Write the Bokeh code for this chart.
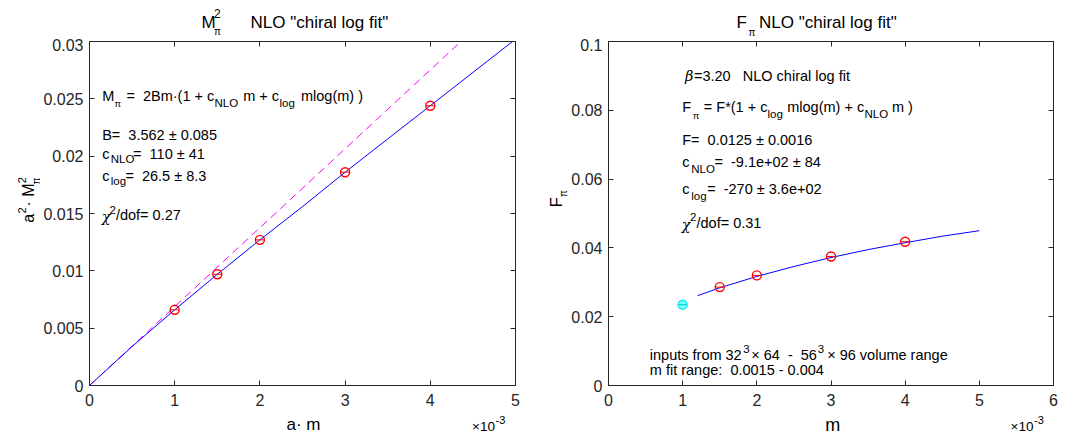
import math
from bokeh.plotting import figure
from bokeh.layouts import row, column
from bokeh.models import Range1d, FixedTicker, LinearAxis, Label
from bokeh.embed import file_html
from bokeh.resources import INLINE

# ---------------- data ----------------
# left panel: a^2 M_pi^2 vs a m
m_pts_L = [0.001, 0.0015, 0.002, 0.003, 0.004]
M2_pts_L = [0.0066, 0.0097, 0.0127, 0.0186, 0.0244]
m_fit_L = [0.0, 0.0005, 0.001, 0.0015, 0.002, 0.0025, 0.003, 0.0035, 0.004, 0.0045, 0.005]
M2_fit_L = [0.0, 0.0034, 0.0066, 0.0097, 0.0127, 0.0156, 0.0186, 0.0215, 0.0244, 0.0273, 0.0302]
m_LO_L = [0.0, 0.00436]
M2_LO_L = [0.0, 0.03]

# right panel: F_pi vs m
m_pts_R = [0.0015, 0.002, 0.003, 0.004]
F_pts_R = [0.0286, 0.0320, 0.0375, 0.0418]
m_out_R = [0.001]
F_out_R = [0.0235]
m_fit_R = [0.0012, 0.0015, 0.002, 0.0025, 0.003, 0.0035, 0.004, 0.0045, 0.005]
F_fit_R = [0.0261, 0.0284, 0.0317, 0.0346, 0.0372, 0.0395, 0.0415, 0.0434, 0.0450]

# ticks
xticks_L = [0.0, 0.001, 0.002, 0.003, 0.004, 0.005]
xlabels_L = ["0", "1", "2", "3", "4", "5"]
yticks_L = [0.0, 0.005, 0.01, 0.015, 0.02, 0.025, 0.03]
ylabels_L = ["0", "0.005", "0.01", "0.015", "0.02", "0.025", "0.03"]
xticks_R = [0.0, 0.001, 0.002, 0.003, 0.004, 0.005, 0.006]
xlabels_R = ["0", "1", "2", "3", "4", "5", "6"]
yticks_R = [0.0, 0.02, 0.04, 0.06, 0.08, 0.1]
ylabels_R = ["0", "0.02", "0.04", "0.06", "0.08", "0.1"]

FONT = "Liberation Sans"
GREEK = "DejaVu Serif"
AX = "#262626"
NB = "\u00a0"

# page geometry (pixels)
TITLE_H = 38
MID_H = 375
BOT_H = 21
L_X0, L_X1 = 88, 515
R_X0, R_X1 = 608, 1053
Y0, Y1 = 41, 385


def make_fig(width, bl, br, xr, yr, xt, xl, yt, yl):
    p = figure(width=width, height=MID_H, x_range=Range1d(*xr), y_range=Range1d(*yr),
               output_backend="svg", toolbar_location=None,
               min_border_left=bl, min_border_right=br,
               min_border_top=3, min_border_bottom=28)
    p.xgrid.visible = False
    p.ygrid.visible = False
    p.outline_line_color = AX
    for ax, ticks, labels in ((p.xaxis[0], xt, xl), (p.yaxis[0], yt, yl)):
        ax.ticker = FixedTicker(ticks=ticks)
        ax.major_label_overrides = {t: s for t, s in zip(ticks, labels)}
        ax.major_tick_in = 5
        ax.major_tick_out = 0
        ax.minor_tick_line_color = None
        ax.axis_line_color = AX
        ax.major_tick_line_color = AX
        ax.major_label_text_font = FONT
        ax.major_label_text_font_size = "16px"
        ax.major_label_text_color = AX
    p.xaxis[0].major_label_standoff = 8
    p.yaxis[0].major_label_standoff = 6
    for loc, ticks in (("above", xt), ("right", yt)):
        a = LinearAxis(ticker=FixedTicker(ticks=ticks), major_tick_in=5, major_tick_out=0,
                       minor_tick_line_color=None, axis_line_color=AX,
                       major_tick_line_color=AX, major_label_text_font_size="1px",
                       major_label_text_color=None, major_label_standoff=0)
        p.add_layout(a, loc)
    return p


def strip(x0, x1, y0, y1):
    # a plain text canvas whose data coordinates equal page pixels
    s = figure(width=x1 - x0, height=y1 - y0, x_range=Range1d(x0, x1), y_range=Range1d(y1, y0),
               output_backend="svg", toolbar_location=None, x_axis_type=None, y_axis_type=None,
               min_border=0)
    s.outline_line_color = None
    return s


pL = make_fig(500, 48, 25, (0, 0.005), (0, 0.03), xticks_L, xlabels_L, yticks_L, ylabels_L)
pR = make_fig(497, 40, 12, (0, 0.006), (0, 0.1), xticks_R, xlabels_R, yticks_R, ylabels_R)
sTop = strip(0, 1065, 0, TITLE_H)
sYL = strip(0, 40, TITLE_H, TITLE_H + MID_H)
sYR = strip(540, 568, TITLE_H, TITLE_H + MID_H)
sBot = strip(0, 1065, TITLE_H + MID_H, TITLE_H + MID_H + BOT_H)


def ident(px, py):
    return px, py


def convL(px, py):
    return (px - L_X0) / (L_X1 - L_X0) * 0.005, (Y1 - py) / (Y1 - Y0) * 0.03


def convR(px, py):
    return (px - R_X0) / (R_X1 - R_X0) * 0.006, (Y1 - py) / (Y1 - Y0) * 0.1


def put(p, conv, px, py, text, size, style="normal", angle=0.0, align="left",
        baseline="middle", color="black", font=FONT):
    x, y = conv(px, py)
    p.add_layout(Label(x=x, y=y, text=text, text_font=font, text_font_size=f"{size}px",
                       text_font_style=style, text_color=color, text_align=align,
                       text_baseline=baseline, angle=angle))


# ---------------- left panel glyphs ----------------
pL.line(m_LO_L, M2_LO_L, line_color="#ff00ff", line_width=1, line_dash="8 5")
pL.line(m_fit_L, M2_fit_L, line_color="#0000ff", line_width=1)
pL.scatter(m_pts_L, M2_pts_L, marker="circle", size=9, fill_color=None,
           line_color="#ff0000", line_width=1.4)
pL.scatter(m_pts_L, M2_pts_L, marker="dash", size=8, line_color="#ff0000", line_width=1)

# ---------------- right panel glyphs ----------------
pR.line(m_fit_R, F_fit_R, line_color="#0000ff", line_width=1)
pR.scatter(m_pts_R, F_pts_R, marker="circle", size=9, fill_color=None,
           line_color="#ff0000", line_width=1.4)
pR.scatter(m_pts_R, F_pts_R, marker="dash", size=8, line_color="#ff0000", line_width=1)
pR.scatter(m_out_R, F_out_R, marker="circle", size=9, fill_color="#7fffff",
           line_color="#00e5ee", line_width=1.4)
pR.scatter(m_out_R, F_out_R, marker="dash", size=8, line_color="#00c8d0", line_width=1)

# ---------------- titles ----------------
T = 17
put(sTop, ident, 201, 22, "M", T)
put(sTop, ident, 213.5, 13, "2", 12)
put(sTop, ident, 213.5, 31, "π", 10)
put(sTop, ident, 250, 22, 'NLO "chiral log fit"', T)
put(sTop, ident, 736, 22, "F", T)
put(sTop, ident, 748, 32, "π", 10)
put(sTop, ident, 758.5, 22, 'NLO "chiral log fit"', T)

# ---------------- left panel texts ----------------
A, S = 14.5, 11.5
put(pL, convL, 100.7, 95, "M", A)
put(pL, convL, 113, 103, "π", 9.5)
put(pL, convL, 125, 95, "=" + NB + " 2Bm·(1 + c", A)
put(pL, convL, 213.3, 102.5, "NLO", S)
put(pL, convL, 242, 95, "m + c", A)
put(pL, convL, 278.5, 102.5, "log", S)
put(pL, convL, 300, 95, "mlog(m) )", A)
put(pL, convL, 100.7, 134, "B=" + NB + " 3.562 ± 0.085", A)
put(pL, convL, 100.7, 153.3, "c", A)
put(pL, convL, 109.3, 158.3, "NLO", S)
put(pL, convL, 131.7, 153.3, "=" + NB + " 110 ± 41", A)
put(pL, convL, 100.7, 175, "c", A)
put(pL, convL, 109.3, 180, "log", S)
put(pL, convL, 124, 175, "=" + NB + " 26.5 ± 8.3", A)
put(pL, convL, 100.2, 216.5, "χ", A, style="italic", font=GREEK)
put(pL, convL, 108, 209, "2", S)
put(pL, convL, 114.5, 214, "/dof= 0.27", A)

# ---------------- right panel texts ----------------
put(pR, convR, 684.5, 75, "β", A, style="italic", font=GREEK)
put(pR, convR, 693.5, 75, "=3.20" + NB + NB + " NLO chiral log fit", A)
put(pR, convR, 681.7, 106.7, "F", A)
put(pR, convR, 692.3, 114.5, "π", 9.5)
put(pR, convR, 703.3, 106.7, "= F*(1 + c", A)
put(pR, convR, 767, 113.3, "log", S)
put(pR, convR, 786.7, 106.7, "mlog(m) + c", A)
put(pR, convR, 864, 113.3, "NLO", S)
put(pR, convR, 891.5, 106.7, "m )", A)
put(pR, convR, 681.7, 139, "F=" + NB + " 0.0125 ± 0.0016", A)
put(pR, convR, 681.7, 161.7, "c", A)
put(pR, convR, 690.7, 168, "NLO", S)
put(pR, convR, 714, 161.7, "=" + NB + " -9.1e+02 ± 84", A)
put(pR, convR, 681.7, 188.3, "c", A)
put(pR, convR, 690.7, 195, "log", S)
put(pR, convR, 706.7, 188.3, "=" + NB + " -270 ± 3.6e+02", A)
put(pR, convR, 681.2, 224.8, "χ", A, style="italic", font=GREEK)
put(pR, convR, 689.5, 216.7, "2", S)
put(pR, convR, 696, 222, "/dof= 0.31", A)

put(pR, convR, 649.3, 354.3, "inputs from 32", A)
put(pR, convR, 742.7, 348.3, "3", S)
put(pR, convR, 750.7, 354.3, "× 64" + NB + " -" + NB + " 56", A)
put(pR, convR, 817.3, 348.3, "3", S)
put(pR, convR, 826.7, 354.3, "× 96 volume range", A)
put(pR, convR, 649.3, 369, "m fit range:" + NB + " 0.0015 - 0.004", A)

# ---------------- axis labels ----------------
put(sBot, ident, 303, 424, "a· m", 17, align="center")
put(sBot, ident, 471.5, 426, "×10", 13.5)
put(sBot, ident, 495, 419.5, "-3", 11)
put(sBot, ident, 832.3, 424, "m", 18, align="center")
put(sBot, ident, 1010, 426, "×10", 13.5)
put(sBot, ident, 1033.5, 419.5, "-3", 11)

put(sYL, ident, 28, 235.5, "a", 16, angle=math.pi / 2, baseline="alphabetic")
put(sYL, ident, 21, 225.5, "2", 11, angle=math.pi / 2, baseline="alphabetic")
put(sYL, ident, 28, 218, "·" + NB + "M", 16, angle=math.pi / 2, baseline="alphabetic")
put(sYL, ident, 21, 192.5, "2", 11, angle=math.pi / 2, baseline="alphabetic")
put(sYL, ident, 35.5, 194, "π", 10, angle=math.pi / 2, baseline="alphabetic")

put(sYR, ident, 556, 219, "F", 17, angle=math.pi / 2, baseline="alphabetic")
put(sYR, ident, 563, 207.5, "π", 10, angle=math.pi / 2, baseline="alphabetic")

layout = column(sTop, row(sYL, pL, sYR, pR), sBot)
open("out.html", "w").write(file_html(layout, INLINE))
